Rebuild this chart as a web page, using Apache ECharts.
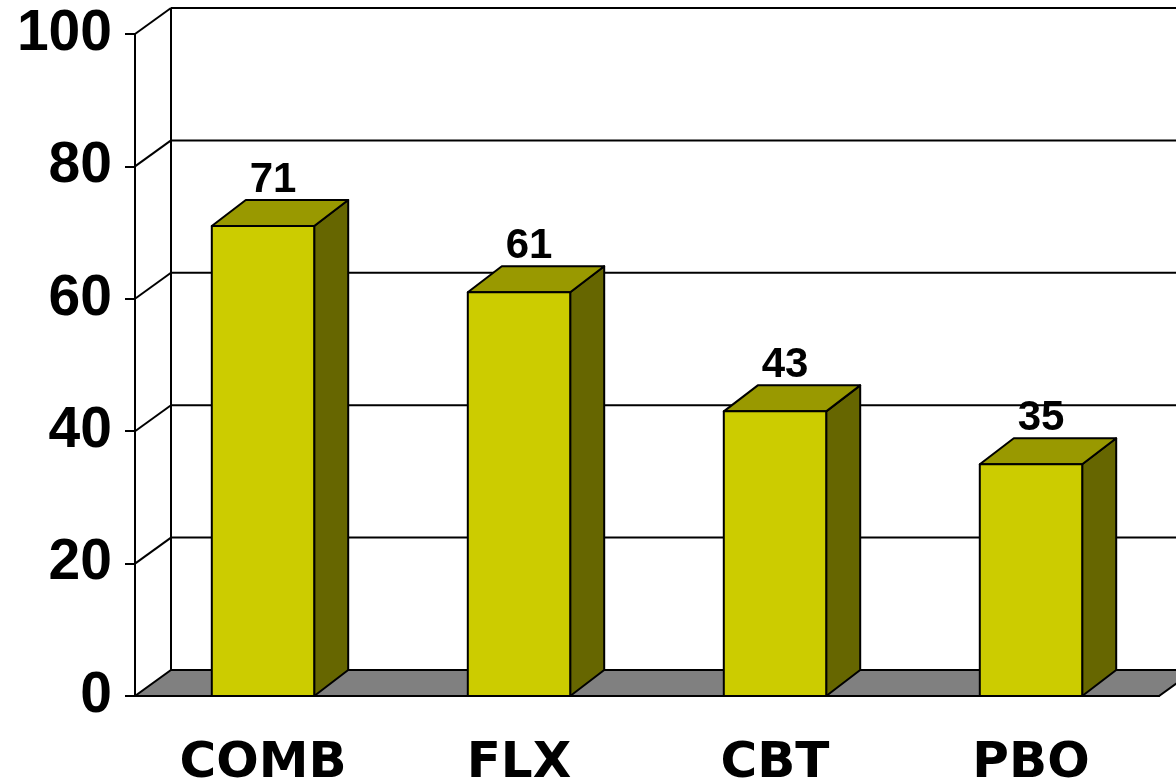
<!DOCTYPE html>
<html>
<head>
<meta charset="utf-8">
<script src="https://cdn.jsdelivr.net/npm/echarts@6/dist/echarts.min.js"></script>
<style>
  html, body { margin: 0; padding: 0; background: #fff; }
  #chart { width: 1176px; height: 784px; }
</style>
</head>
<body>
<div id="chart"></div>
<script>
const categories = ['COMB', 'FLX', 'CBT', 'PBO']
const values = [71, 61, 43, 35]
const yTicks = [0, 20, 40, 60, 80, 100]

// depth offsets for the fake 3D look
const WALL_DX = 36, WALL_DY = -26
const BAR_DX = 34, BAR_DY = -26

const chart = echarts.init(document.getElementById('chart'))

function renderWall(params, api) {
  const cs = params.coordSys
  const v = api.value(1)
  const y = api.coord([0, v])[1]
  const x0 = cs.x
  const right = cs.x + cs.width
  const children = []
  const line = { stroke: '#000', lineWidth: 2 }
  if (v === 0) {
    children.push({
      type: 'polygon',
      shape: { points: [[x0, y], [right, y], [right + WALL_DX, y + WALL_DY], [x0 + WALL_DX, y + WALL_DY]] },
      style: { fill: '#808080', stroke: '#000', lineWidth: 2 }
    })
  } else {
    children.push({
      type: 'line',
      shape: { x1: x0, y1: y, x2: x0 + WALL_DX, y2: y + WALL_DY },
      style: line
    })
    children.push({
      type: 'line',
      shape: { x1: x0 + WALL_DX, y1: y + WALL_DY, x2: right + WALL_DX + 60, y2: y + WALL_DY },
      style: line
    })
  }
  if (v === yTicks[yTicks.length - 1]) {
    const yb = api.coord([0, 0])[1]
    children.push({
      type: 'line',
      shape: { x1: x0 + WALL_DX, y1: y + WALL_DY, x2: x0 + WALL_DX, y2: yb + WALL_DY },
      style: line
    })
  }
  return { type: 'group', children }
}

function renderBar(params, api) {
  const i = api.value(0)
  const v = api.value(1)
  const top = api.coord([i, v])
  const base = api.coord([i, 0])
  const w = api.size([1, 0])[0] * 0.4
  const xl = top[0] - w / 2, xr = top[0] + w / 2
  const yt = top[1], yb = base[1]
  const st = { stroke: '#000', lineWidth: 2, lineJoin: 'round' }
  return {
    type: 'group',
    children: [
      {
        type: 'polygon',
        shape: { points: [[xr, yb], [xr + BAR_DX, yb + BAR_DY], [xr + BAR_DX, yt + BAR_DY], [xr, yt]] },
        style: Object.assign({ fill: '#666600' }, st)
      },
      {
        type: 'polygon',
        shape: { points: [[xl, yt], [xr, yt], [xr + BAR_DX, yt + BAR_DY], [xl + BAR_DX, yt + BAR_DY]] },
        style: Object.assign({ fill: '#999900' }, st)
      },
      {
        type: 'rect',
        shape: { x: xl, y: yt, width: w, height: yb - yt },
        style: Object.assign({ fill: '#CCCC00' }, st)
      },
      {
        type: 'text',
        style: {
          x: top[0] + 10, y: yt + BAR_DY + 1,
          text: String(v),
          align: 'center', verticalAlign: 'bottom',
          font: 'bold 42px "Liberation Sans", Arial, sans-serif',
          fill: '#000'
        }
      }
    ]
  }
}

chart.setOption({
  animation: false,
  grid: { left: 135, right: 17, top: 34, bottom: 88, outerBoundsMode: 'none' },
  xAxis: {
    type: 'category',
    data: categories,
    axisLine: { lineStyle: { color: '#000', width: 2 } },
    axisTick: { length: 9, lineStyle: { color: '#000', width: 2 } },
    axisLabel: {
      margin: 43,
      color: '#000',
      fontFamily: 'DejaVu Sans',
      fontWeight: 'bold',
      fontSize: 50
    }
  },
  yAxis: {
    type: 'value',
    min: 0,
    max: 100,
    interval: 20,
    axisLine: { show: true, lineStyle: { color: '#000', width: 2 } },
    axisTick: { show: true, length: 10, lineStyle: { color: '#000', width: 2 } },
    splitLine: { show: false },
    axisLabel: {
      margin: 23,
      color: '#000',
      fontFamily: 'Liberation Sans',
      fontWeight: 'bold',
      fontSize: 57
    }
  },
  series: [
    {
      type: 'custom',
      renderItem: renderWall,
      data: yTicks.map((t) => [0, t]),
      encode: { x: 0, y: 1 },
      silent: true,
      z: 1
    },
    {
      type: 'custom',
      renderItem: renderBar,
      data: values.map((v, i) => [i, v]),
      encode: { x: 0, y: 1 },
      z: 2
    }
  ]
})
</script>
</body>
</html>
